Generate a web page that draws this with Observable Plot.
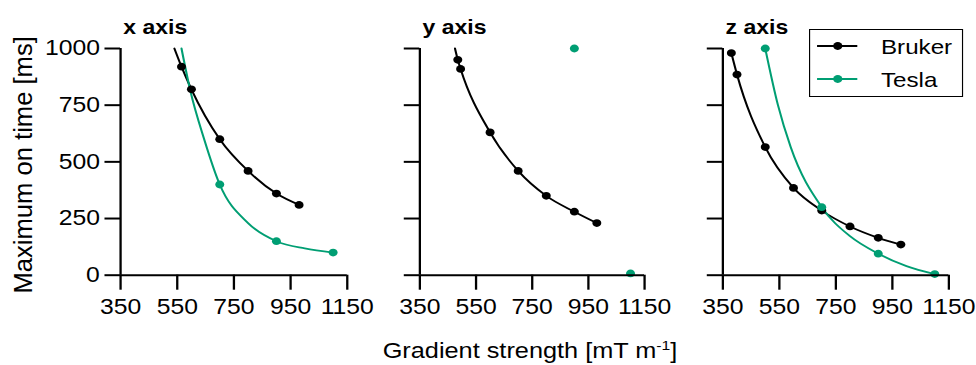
<!DOCTYPE html>
<html><head><meta charset="utf-8">
<script src="https://cdn.jsdelivr.net/npm/d3@7"></script>
<script src="https://cdn.jsdelivr.net/npm/@observablehq/plot@0.6"></script>
<style>
html,body{margin:0;padding:0;background:#fff;}
#chart{position:relative;width:976px;height:365px;overflow:hidden;font-family:"Liberation Sans",Arial,sans-serif;color:#000;}
#chart svg{position:absolute;top:0;overflow:visible;}
</style></head><body><div id="chart"></div>
<script>
// ---- data ----
const panelKeys = ["x", "y", "z"];
const panelTitles = ["x axis", "y axis", "z axis"];
const seriesNames = ["Bruker", "Tesla"];
const seriesColors = ["#000000", "#009E73"];
const xTicks = [350, 550, 750, 950, 1150];
const yTicks = [0, 250, 500, 750, 1000];
const xTitle = "Gradient strength [mT m<sup>-1</sup>]";
const yTitle = "Maximum on time [ms]";

// measured points: gradient strength (mT/m) and maximum on time (ms)
const xBrukerG = [565, 600, 700, 800, 900, 980];
const xBrukerT = [920, 820, 600, 460, 360, 310];
const xTeslaG = [700, 900, 1100];
const xTeslaT = [400, 150, 100];
const yBrukerG = [485, 495, 600, 700, 800, 900, 980];
const yBrukerT = [950, 910, 630, 460, 350, 280, 230];
const yTeslaG = [900, 1100];
const yTeslaT = [1000, 8];
const zBrukerG = [380, 400, 500, 600, 700, 800, 900, 980];
const zBrukerT = [980, 885, 565, 385, 285, 215, 165, 135];
const zTeslaG = [500, 700, 900, 1100];
const zTeslaT = [1000, 300, 95, 5];

// fitted curves, points
const xBrukerFitG = [540, 565, 600, 700, 800, 900, 980];
const xBrukerFitT = [1000, 920, 820, 600, 460, 360, 310];
const xTeslaFitG = [565, 595, 645, 700, 800, 900, 1000, 1100];
const xTeslaFitT = [1000, 820, 600, 400, 230, 150, 118, 100];
const yBrukerFitG = [475, 485, 495, 600, 700, 800, 900, 980];
const yBrukerFitT = [1000, 950, 910, 630, 460, 350, 280, 230];
const zBrukerFitG = [380, 400, 500, 600, 700, 800, 900, 980];
const zBrukerFitT = [980, 885, 565, 385, 285, 215, 165, 135];
const zTeslaFitG = [500, 545, 590, 700, 800, 900, 1000, 1100];
const zTeslaFitT = [1000, 750, 565, 300, 172, 95, 40, 5];

// ---- build tables ----
function rows(panel, series, G, T) { return G.map((g, i) => ({panel, series, g, t: T[i]})); }
const points = [
  ...rows("x", "Bruker", xBrukerG, xBrukerT), ...rows("x", "Tesla", xTeslaG, xTeslaT),
  ...rows("y", "Bruker", yBrukerG, yBrukerT), ...rows("y", "Tesla", yTeslaG, yTeslaT),
  ...rows("z", "Bruker", zBrukerG, zBrukerT), ...rows("z", "Tesla", zTeslaG, zTeslaT)
];
const fits = [
  ...rows("x", "Bruker", xBrukerFitG, xBrukerFitT), ...rows("x", "Tesla", xTeslaFitG, xTeslaFitT),
  ...rows("y", "Bruker", yBrukerFitG, yBrukerFitT),
  ...rows("z", "Bruker", zBrukerFitG, zBrukerFitT), ...rows("z", "Tesla", zTeslaFitG, zTeslaFitT)
];

// ---- layout ----
const S = 1.15;          // horizontal stretch of the reference figure
const H = 365;
const FONT = '"Liberation Sans", Arial, sans-serif';
const layout = [
  {left: 0, right: 385, f0: 120, f1: 346.7},
  {left: 385, right: 690, f0: 419.3, f1: 644},
  {left: 690, right: 976, f0: 722.3, f1: 948.3}
];
const chart = document.getElementById("chart");

panelKeys.forEach((key, i) => {
  const L = layout[i];
  const w = (L.right - L.left) / S;
  const marks = [
    Plot.line(fits.filter(d => d.panel === key), {x: "g", y: "t", z: "series", stroke: "series", strokeWidth: 1.8, curve: "monotone-x"}),
    Plot.dot(points.filter(d => d.panel === key), {x: "g", y: "t", fill: "series", r: 3.9}),
    Plot.ruleY([yTicks[0]], {strokeWidth: 2}),
    Plot.ruleX([xTicks[0]], {strokeWidth: 2}),
    Plot.axisX({ticks: xTicks, tickSize: 15, tickPadding: 9, strokeWidth: 2, fontSize: 21.5, label: null, tickFormat: d => String(d)}),
    Plot.axisY({ticks: yTicks, tickSize: 13.5, tickPadding: 4.5, strokeWidth: 2, fontSize: 21.5, label: null,
      tickFormat: i === 0 ? (d => String(d)) : (() => "")}),
    Plot.text([panelTitles[i]], {frameAnchor: "top-left", textAnchor: "start", lineAnchor: "middle", dx: 2.7 / S, dy: -21, fontSize: 20, fontWeight: "bold"})
  ];
  if (i === 0) marks.push(Plot.text([yTitle], {frameAnchor: "left", textAnchor: "middle", lineAnchor: "middle", rotate: -90,
    dx: -(L.f0 - 23) / S, dy: 3, fontSize: 25.6}));
  const svg = Plot.plot({
    width: w, height: H,
    marginLeft: (L.f0 - L.left) / S, marginRight: (L.right - L.f1) / S,
    marginTop: 48, marginBottom: H - 274.7,
    x: {domain: [xTicks[0], xTicks[xTicks.length - 1]]},
    y: {domain: [yTicks[0], yTicks[yTicks.length - 1]]},
    color: {domain: seriesNames, range: seriesColors},
    style: {fontFamily: FONT, background: "transparent", overflow: "visible", color: "#000"},
    marks
  });
  svg.setAttribute("viewBox", `0 0 ${w} ${H}`);
  svg.setAttribute("preserveAspectRatio", "none");
  svg.setAttribute("width", w * S);
  svg.setAttribute("height", H);
  svg.style.width = (w * S) + "px";
  svg.style.height = H + "px";
  svg.style.maxWidth = "none";
  svg.style.left = L.left + "px";
  // the rotated y title is not stretched in the reference: undo the stretch along its glyph height
  svg.querySelectorAll("text").forEach(t => {
    if (t.textContent === yTitle) {
      const tr = t.getAttribute("transform") || "";
      t.setAttribute("transform", tr + ` scale(1, ${1 / S})`);
    }
  });
  chart.appendChild(svg);
});

// x-axis title
const xl = document.createElement("div");
xl.innerHTML = xTitle;
Object.assign(xl.style, {position: "absolute", left: "530px", top: "340px", fontSize: "22px", lineHeight: "22px",
  whiteSpace: "nowrap", transform: "translateX(-50%) scaleX(" + S + ")", fontFamily: FONT});
xl.querySelector("sup").style.cssText = "font-size:0.62em;vertical-align:baseline;position:relative;top:-0.62em;";
chart.appendChild(xl);

// legend
const lg = document.createElement("div");
Object.assign(lg.style, {position: "absolute", left: "809px", top: "29.3px", width: (153.7 / S) + "px", height: "67.4px",
  border: "1.8px solid #000", boxSizing: "border-box", background: "#fff", transform: "scaleX(" + S + ")",
  transformOrigin: "0 0", fontFamily: FONT, fontSize: "21px"});
seriesNames.forEach((name, k) => {
  const cy = 17.4 + k * 33.3 - 1.8;
  const line = document.createElement("div");
  Object.assign(line.style, {position: "absolute", left: (7.6 - 1.6) + "px", width: "35.3px", top: (cy - 1) + "px", height: "2px", background: seriesColors[k]});
  const dot = document.createElement("div");
  Object.assign(dot.style, {position: "absolute", left: (25.3 - 1.6 - 3.9) + "px", width: "7.8px", top: (cy - 3.9) + "px", height: "7.8px", borderRadius: "50%", background: seriesColors[k]});
  const txt = document.createElement("div");
  txt.textContent = name;
  Object.assign(txt.style, {position: "absolute", left: (63.2 - 1.6) + "px", top: (cy - 10.3) + "px", lineHeight: "21px", whiteSpace: "nowrap"});
  lg.append(line, dot, txt);
});
chart.appendChild(lg);
</script></body></html>
